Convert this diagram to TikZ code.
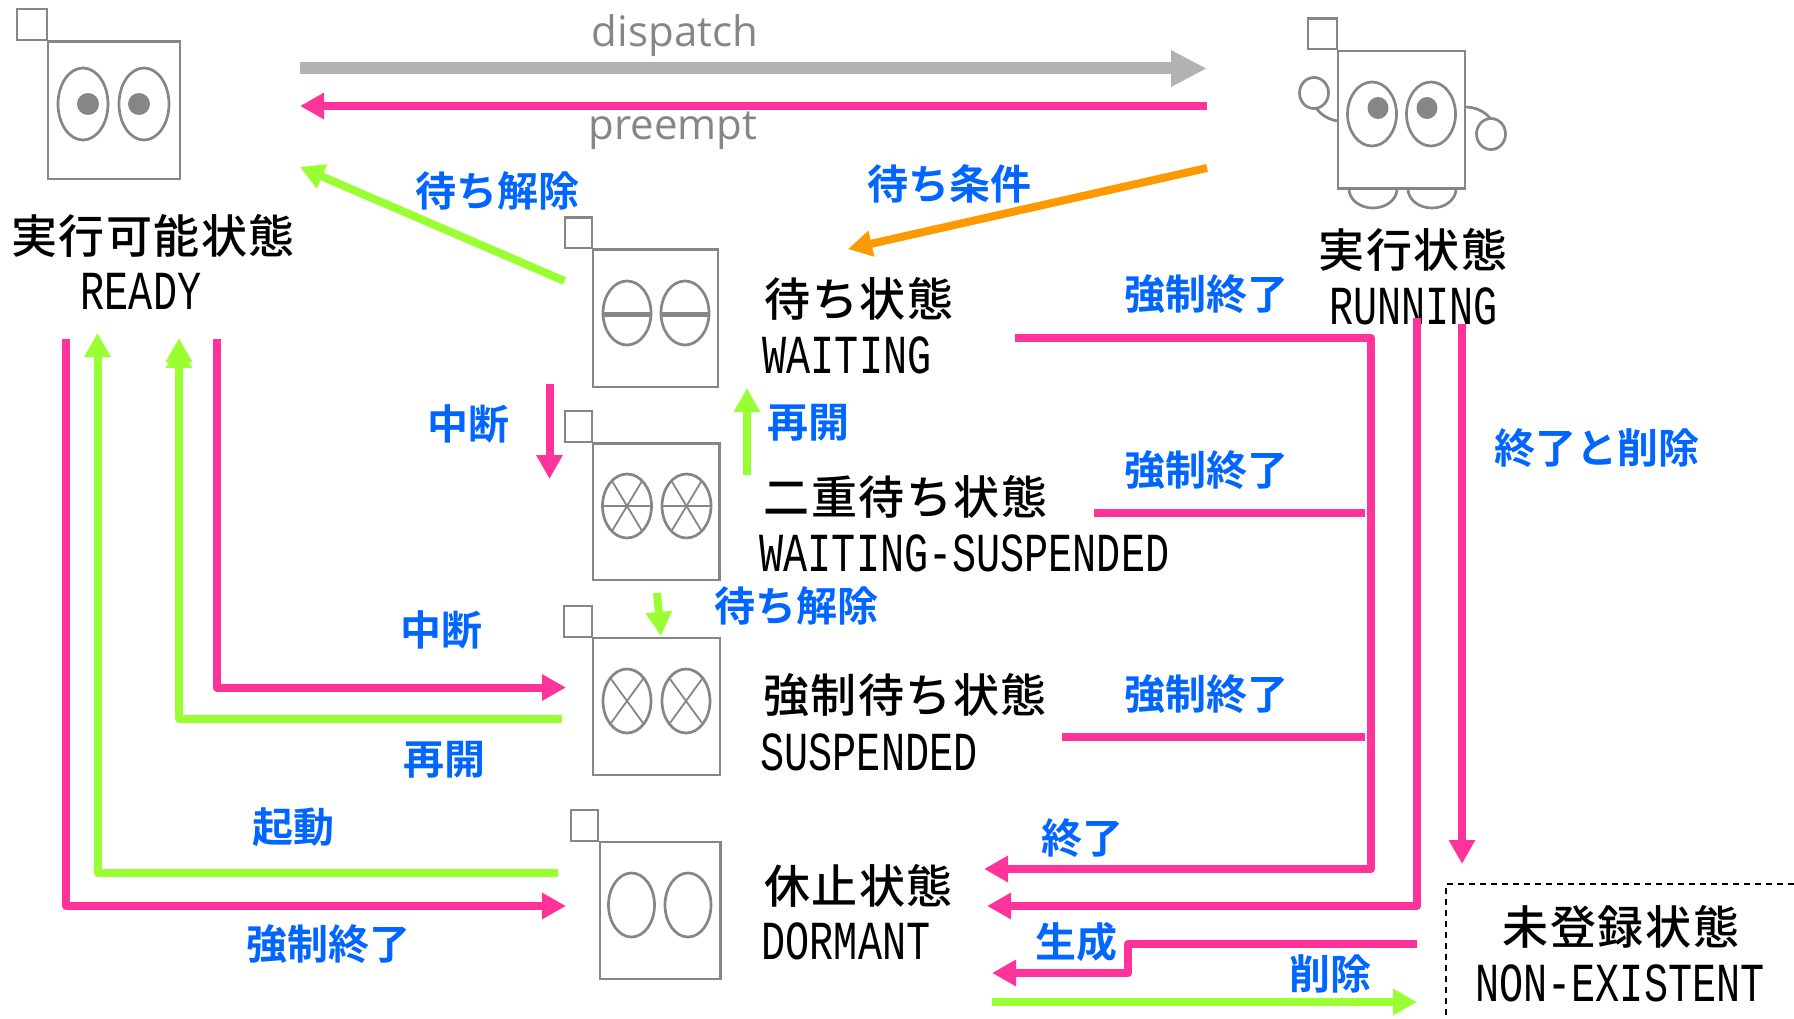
\documentclass[tikz,border=0pt]{standalone}
\usepackage{fontspec}
\usetikzlibrary{arrows.meta}
\newfontfamily\jpfont[LetterSpace=3.3]{Noto Sans CJK JP Medium}
\newfontfamily\jpbold{Noto Sans CJK JP Bold}
\newfontfamily\latfont[FakeStretch=0.73]{Liberation Mono}
\newfontfamily\graylat{Open Sans}
\definecolor{pinkc}{HTML}{FF3399}
\definecolor{greenc}{HTML}{99FF33}
\definecolor{orangec}{HTML}{FF9900}
\definecolor{grayc}{HTML}{B2B2B2}
\definecolor{linec}{HTML}{868686}
\definecolor{bluec}{HTML}{0066FF}
\tikzset{
  x=1pt,y=-1pt,
  robot/.style={draw=linec,line width=2.7pt},
  eye/.style={draw=linec,line width=2.7pt},
  spoke/.style={draw=linec,line width=1.8pt},
  pupil/.style={fill=linec,draw=none},
  jplabel/.style={inner sep=0pt,font={\jpfont\fontsize{46}{46}\selectfont},text=black},
  latlabel/.style={inner sep=0pt,font={\latfont\fontsize{55}{55}\selectfont},text=black},
  bluelabel/.style={inner sep=0pt,font={\jpbold\fontsize{41}{41}\selectfont},text=bluec},
  graylabel/.style={inner sep=0pt,anchor=base,font={\graylat\fontsize{42}{42}\selectfont},text=linec},
  flow/.style={line width=8pt,-{Triangle[length=24pt,width=25pt]},line join=round},
  doubleflow/.style={line width=8pt,-{Triangle[length=24pt,width=25pt,sep=-18pt]Triangle[length=24pt,width=25pt]},line join=round},
  plain/.style={line width=8pt,line join=round},
}
\begin{document}
\begin{tikzpicture}
\useasboundingbox (0,0) rectangle (1794,1019);
% READY robot
\draw[robot] (17,9) rectangle (47,40);
\draw[robot] (48,41.5) rectangle (180,179);
\draw[eye] (83,104) ellipse [x radius=25,y radius=36];
\draw[eye] (144,104) ellipse [x radius=25,y radius=36];
\fill[pupil] (88,104) ellipse [x radius=11,y radius=11];
\fill[pupil] (139,104) ellipse [x radius=11,y radius=11];
% RUNNING robot
\draw[robot] (1308,18.5) rectangle (1337,49);
\draw[robot] (1349,189) arc[start angle=180,end angle=0,x radius=24,y radius=19];
\draw[robot] (1408,189) arc[start angle=180,end angle=0,x radius=24,y radius=19];
\draw[robot] (1338,51) rectangle (1465,188.5);
\draw[eye] (1372,114) ellipse [x radius=24.5,y radius=32];
\draw[eye] (1431,114) ellipse [x radius=24.5,y radius=32];
\fill[pupil] (1378,108) ellipse [x radius=10.5,y radius=11];
\fill[pupil] (1427,108) ellipse [x radius=10.5,y radius=11];
\draw[robot] (1314,93) ellipse [x radius=14.5,y radius=15.5];
\draw[robot] (1491,134) ellipse [x radius=14.5,y radius=15.5];
\draw[robot] (1316,108) .. controls (1322,116) and (1330,120) .. (1338,121);
\draw[robot] (1465,107) .. controls (1475,107) and (1484,111) .. (1490,118);
% WAITING robot
\draw[robot] (565,217.5) rectangle (592,248);
\draw[robot] (593,249.5) rectangle (718,387);
\draw[eye] (627,313) ellipse [x radius=24,y radius=32];
\draw[eye] (685,313) ellipse [x radius=24,y radius=32];
\draw[draw=linec,line width=5pt] (603,314) -- (651,314);
\draw[draw=linec,line width=5pt] (661,314) -- (709,314);
% WAITING-SUSPENDED robot
\draw[robot] (565,411) rectangle (592,442);
\draw[robot] (593,443.5) rectangle (719.5,580);
\foreach \cx in {627,686.5}{
  \draw[eye] (\cx,506) ellipse [x radius=24.5,y radius=32];
  \draw[spoke] (\cx-24.5,506) -- (\cx+24.5,506);
  \draw[spoke] (\cx-15,481) -- (\cx+15,531);
  \draw[spoke] (\cx+15,481) -- (\cx-15,531);
}
% SUSPENDED robot
\draw[robot] (564,606) rectangle (592,637);
\draw[robot] (593,638) rectangle (720,775);
\foreach \cx in {627,686}{
  \draw[eye] (\cx,701) ellipse [x radius=24,y radius=32];
  \draw[spoke] (\cx-16,679) -- (\cx+16,723);
  \draw[spoke] (\cx+16,679) -- (\cx-16,723);
}
% DORMANT robot
\draw[robot] (571,810) rectangle (598,841);
\draw[robot] (600,842) rectangle (720.5,979);
\draw[eye] (631.5,905) ellipse [x radius=23,y radius=32];
\draw[eye] (688,905) ellipse [x radius=23,y radius=32];
% state labels
\node[jplabel] (l1) at (153,236) {実行可能状態};
\node[latlabel] (l2) at (141,291) {READY};
\node[jplabel] (l3) at (1413,250) {実行状態};
\node[latlabel] (l4) at (1413.5,306) {RUNNING};
\node[jplabel] (l5) at (859,299) {待ち状態};
\node[latlabel] (l6) at (847,355) {WAITING};
\node[jplabel] (l7) at (905.5,497) {二重待ち状態};
\node[latlabel] (l8) at (964.5,553) {WAITING-SUSPENDED};
\node[jplabel] (l9) at (905,695.5) {強制待ち状態};
\node[latlabel] (l10) at (869,752) {SUSPENDED};
\node[jplabel] (l11) at (858.5,885.5) {休止状態};
\node[latlabel] (l12) at (846,941.5) {DORMANT};
\node[jplabel] (l13) at (1621,927) {未登録状態};
\node[latlabel] (l14) at (1620,983) {NON-EXISTENT};
% dashed box
\draw[black,line width=1.8pt,dash pattern=on 6pt off 5pt] (1794,884) -- (1446,884) -- (1446,1019);
% coordinates
\coordinate (dA) at (300,68.5); \coordinate (dB) at (1207,68.5);
\coordinate (pA) at (1207,106); \coordinate (pB) at (300,106);
\coordinate (gA) at (564.5,281); \coordinate (gB) at (300,167);
\coordinate (oA) at (1207,168); \coordinate (oB) at (848,249);
% top arrows
\draw[grayc,line width=12pt,-{Triangle[length=36pt,width=34pt]}] (dA) -- (dB);
\draw[pinkc,flow] (pA) -- (pB);
\draw[greenc,flow] (gA) -- (gB);
\draw[orangec,flow] (oA) -- (oB);
% state-to-state
\coordinate (a1) at (549.5,384); \coordinate (a2) at (549.5,479);
\draw[pinkc,flow] (a1) -- (a2);
\coordinate (b1) at (747,475); \coordinate (b2) at (747,388);
\draw[greenc,flow] (b1) -- (b2);
\coordinate (c1) at (657,593); \coordinate (c2) at (661,636);
\draw[greenc,flow] (c1) -- (c2);
% READY left side
\coordinate (e1) at (65.5,339); \coordinate (e2) at (65.5,906); \coordinate (e3) at (566,906);
\draw[pinkc,flow] (e1) -- (e2) -- (e3);
\coordinate (f1) at (558,873); \coordinate (f2) at (97.5,873); \coordinate (f3) at (97.5,333);
\draw[greenc,flow] (f1) -- (f2) -- (f3);
\coordinate (g1) at (562,718.5); \coordinate (g2) at (179,718.5); \coordinate (g3) at (179,338);
\draw[greenc,doubleflow] (g1) -- (g2) -- (g3);
\coordinate (h1) at (217,339); \coordinate (h2) at (217,687.5); \coordinate (h3) at (566,687.5);
\draw[pinkc,flow] (h1) -- (h2) -- (h3);
% forced termination
\coordinate (i1) at (1015,338); \coordinate (i2) at (1371,338); \coordinate (i3) at (1371,869); \coordinate (i4) at (984,869);
\draw[pinkc,flow] (i1) -- (i2) -- (i3) -- (i4);
\coordinate (j1) at (1094,512.5); \coordinate (j2) at (1365,512.5);
\draw[pinkc,plain] (j1) -- (j2);
\coordinate (k1) at (1062,737); \coordinate (k2) at (1365,737);
\draw[pinkc,plain] (k1) -- (k2);
% running
\coordinate (m1) at (1417,318); \coordinate (m2) at (1417,906); \coordinate (m3) at (987,906);
\draw[pinkc,flow] (m1) -- (m2) -- (m3);
\coordinate (n1) at (1462,324); \coordinate (n2) at (1462,864);
\draw[pinkc,flow] (n1) -- (n2);
\coordinate (q1) at (1417,944); \coordinate (q2) at (1128,944); \coordinate (q3) at (1128,973); \coordinate (q4) at (992,973);
\draw[pinkc,flow] (q1) -- (q2) -- (q3) -- (q4);
\coordinate (r1) at (992,1002); \coordinate (r2) at (1417,1002);
\draw[greenc,flow] (r1) -- (r2);
% edge labels
\node[graylabel] (t1) at (675,47) {dispatch};
\node[graylabel] (t2) at (673,140) {preempt};
\node[bluelabel] (t3) at (497.5,191) {待ち解除};
\node[bluelabel] (t4) at (949,184) {待ち条件};
\node[bluelabel] (t5) at (1206,294) {強制終了};
\node[bluelabel] (t6) at (1206,470) {強制終了};
\node[bluelabel] (t7) at (1206,694) {強制終了};
\node[bluelabel] (t8) at (1597,448) {終了と削除};
\node[bluelabel] (t9) at (808.5,423) {再開};
\node[bluelabel] (t10) at (468.5,424) {中断};
\node[bluelabel] (t11) at (796,606) {待ち解除};
\node[bluelabel] (t12) at (441.6,630) {中断};
\node[bluelabel] (t13) at (444,760) {再開};
\node[bluelabel] (t14) at (293,827) {起動};
\node[bluelabel] (t15) at (328,944) {強制終了};
\node[bluelabel] (t16) at (1082,838) {終了};
\node[bluelabel] (t17) at (1076,942) {生成};
\node[bluelabel] (t18) at (1330,974) {削除};
\end{tikzpicture}
\end{document}
